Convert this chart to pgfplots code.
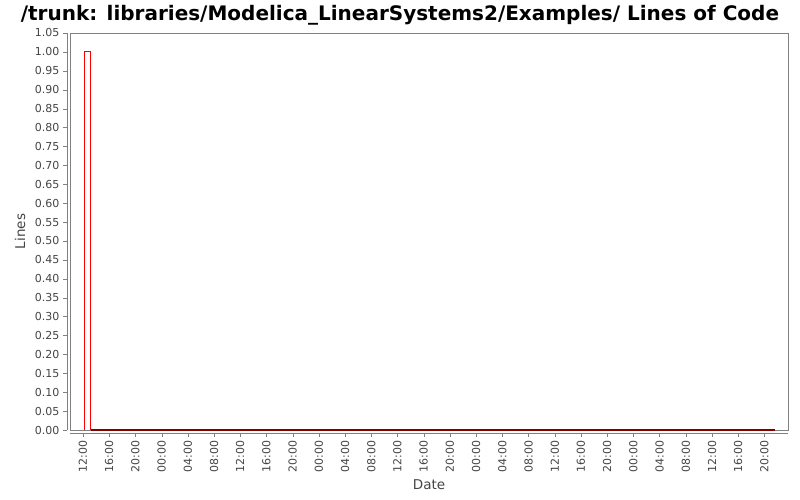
\documentclass[border=0pt]{standalone}
\usepackage{fontspec}
\setmainfont{DejaVu Sans}
\usepackage{pgfplots}
\pgfplotsset{compat=1.18}
\definecolor{axgray}{RGB}{128,128,128}
\definecolor{lblgray}{RGB}{68,68,68}
\definecolor{darkred}{RGB}{130,0,0}
\begin{document}
\begin{tikzpicture}
\path[use as bounding box] (0pt,0pt) rectangle (800pt,500pt);
\node[font=\bfseries\fontsize{20}{22}\selectfont, anchor=base] at (400pt,479pt) {/trunk: libraries/Modelica\_LinearSystems2/Examples/ Lines of Code};
\begin{axis}[
  at={(70pt,70pt)}, anchor=south west, scale only axis,
  width=718pt, height=397pt,
  xmin=-1.98, xmax=107.6, ymin=0, ymax=1.05,
  clip=false,
  axis x line*=bottom, axis y line*=left,
  axis line style={axgray,-},
  x axis line style={yshift=-3pt},
  y axis line style={xshift=-3pt},
  tick align=outside, major tick length=4pt,
  xtick style={axgray, yshift=-3pt},
  ytick style={axgray, xshift=-3pt},
  xticklabel shift=3pt, yticklabel shift=3pt,
  ticklabel style={font=\fontsize{11}{12}\selectfont, text=lblgray},
  xticklabel style={rotate=90, anchor=east},
  xtick={0,4,8,12,16,20,24,28,32,36,40,44,48,52,56,60,64,68,72,76,80,84,88,92,96,100,104},
  xticklabels={12:00,16:00,20:00,00:00,04:00,08:00,12:00,16:00,20:00,00:00,04:00,08:00,12:00,16:00,20:00,00:00,04:00,08:00,12:00,16:00,20:00,00:00,04:00,08:00,12:00,16:00,20:00},
  ytick={0,0.05,0.1,0.15,0.2,0.25,0.3,0.35,0.4,0.45,0.5,0.55,0.6,0.65,0.7,0.75,0.8,0.85,0.9,0.95,1.0,1.05},
  yticklabels={0.00,0.05,0.10,0.15,0.20,0.25,0.30,0.35,0.40,0.45,0.50,0.55,0.60,0.65,0.70,0.75,0.80,0.85,0.90,0.95,1.00,1.05},
  xlabel={Date}, ylabel={Lines},
  xlabel style={at={(rel axis cs:0.5,0)}, anchor=center, yshift=-55pt, font=\fontsize{13.5}{15}\selectfont, text=lblgray},
  ylabel style={at={(rel axis cs:0,0.5)}, anchor=center, yshift=50pt, font=\fontsize{13.5}{15}\selectfont, text=lblgray},
]
\draw[axgray, line width=0.8pt] (rel axis cs:0,0) rectangle (rel axis cs:1,1);
\addplot[color=red, line width=1.2pt] coordinates {(0.23,0) (0.23,1) (1.15,1) (1.15,0)};
\addplot[color=darkred, line width=1.2pt] coordinates {(1.15,0) (105.6,0)};
\end{axis}
\end{tikzpicture}
\end{document}
